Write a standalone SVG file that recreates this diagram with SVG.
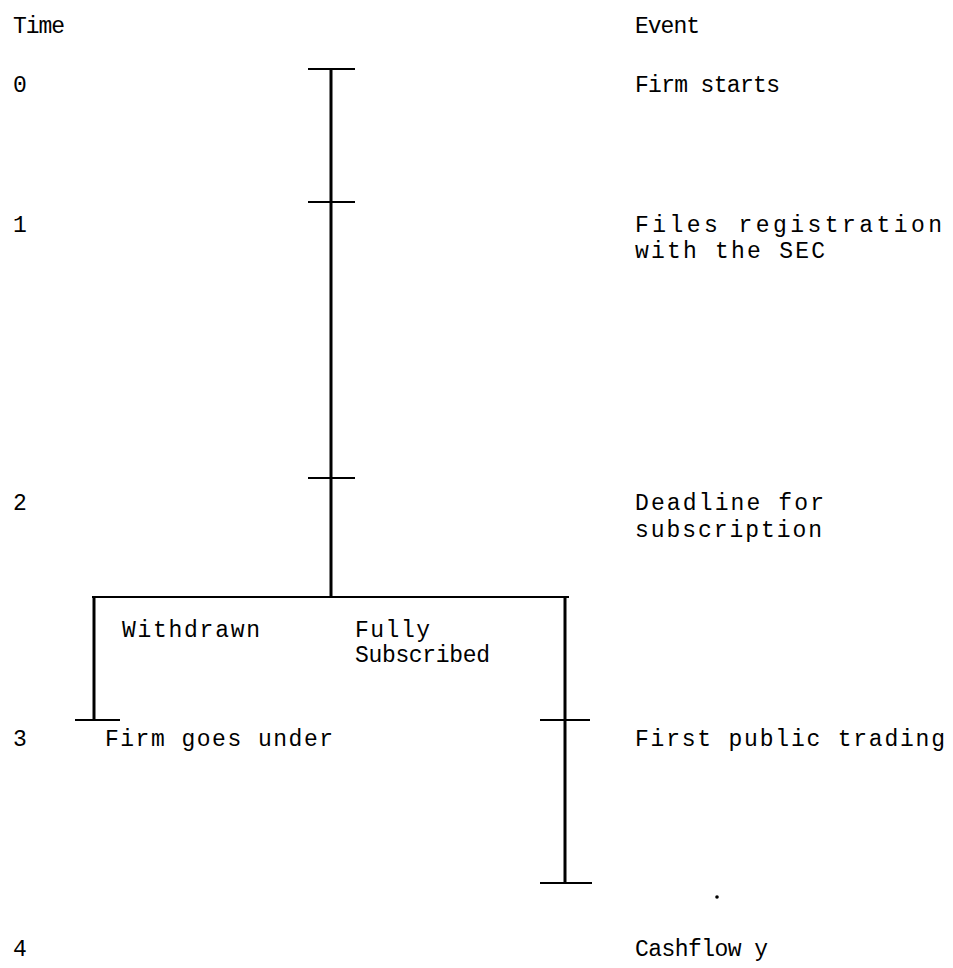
<svg xmlns="http://www.w3.org/2000/svg" width="953" height="968" viewBox="0 0 953 968">
<style>
text{font-family:"Liberation Mono","DejaVu Sans Mono",monospace;font-size:23px;fill:#000}
.ln{stroke:#000;stroke-width:3;fill:none}
.tk{stroke:#000;stroke-width:2;fill:none}
</style>
<rect width="953" height="968" fill="#fff"/>
<g id="labels">
<text x="13" y="33" textLength="52" lengthAdjust="spacing">Time</text>
<text x="635" y="33" textLength="65" lengthAdjust="spacing">Event</text>
</g>
<g id="t0"><text x="13" y="92">0</text><text x="635" y="92" textLength="145" lengthAdjust="spacing">Firm starts</text></g>
<g id="t1"><text x="13" y="232">1</text><text x="635" y="232" textLength="307" lengthAdjust="spacing">Files registration</text><text x="635" y="258" textLength="190" lengthAdjust="spacing">with the SEC</text></g>
<g id="t2"><text x="13" y="510">2</text><text x="635" y="510" textLength="189" lengthAdjust="spacing">Deadline for</text><text x="635" y="537" textLength="187" lengthAdjust="spacing">subscription</text></g>
<g id="branches"><text x="122" y="637" textLength="138" lengthAdjust="spacing">Withdrawn</text><text x="355" y="637" textLength="75" lengthAdjust="spacing">Fully</text><text x="355" y="662" textLength="135" lengthAdjust="spacing">Subscribed</text></g>
<g id="t3"><text x="13" y="746">3</text><text x="105" y="746" textLength="228" lengthAdjust="spacing">Firm goes under</text><text x="635" y="746" textLength="310" lengthAdjust="spacing">First public trading</text></g>
<g id="t4"><text x="13" y="956">4</text><text x="635" y="956" textLength="133" lengthAdjust="spacing">Cashflow y</text></g>
<g id="connectors">
<line class="ln" x1="331" y1="69" x2="331" y2="597"/>
<line class="tk" x1="308" y1="69" x2="355" y2="69"/>
<line class="tk" x1="308" y1="202" x2="355" y2="202"/>
<line class="tk" x1="308" y1="478" x2="355" y2="478"/>
<line class="tk" x1="92" y1="597" x2="569" y2="597"/>
<line class="ln" x1="94" y1="597" x2="94" y2="720"/>
<line class="tk" x1="75" y1="720" x2="120" y2="720"/>
<line class="ln" x1="565" y1="597" x2="565" y2="883"/>
<line class="tk" x1="540" y1="720" x2="590" y2="720"/>
<line class="tk" x1="540" y1="883" x2="592" y2="883"/>
<circle cx="717" cy="897" r="1.8" fill="#000"/>
</g>
</svg>
